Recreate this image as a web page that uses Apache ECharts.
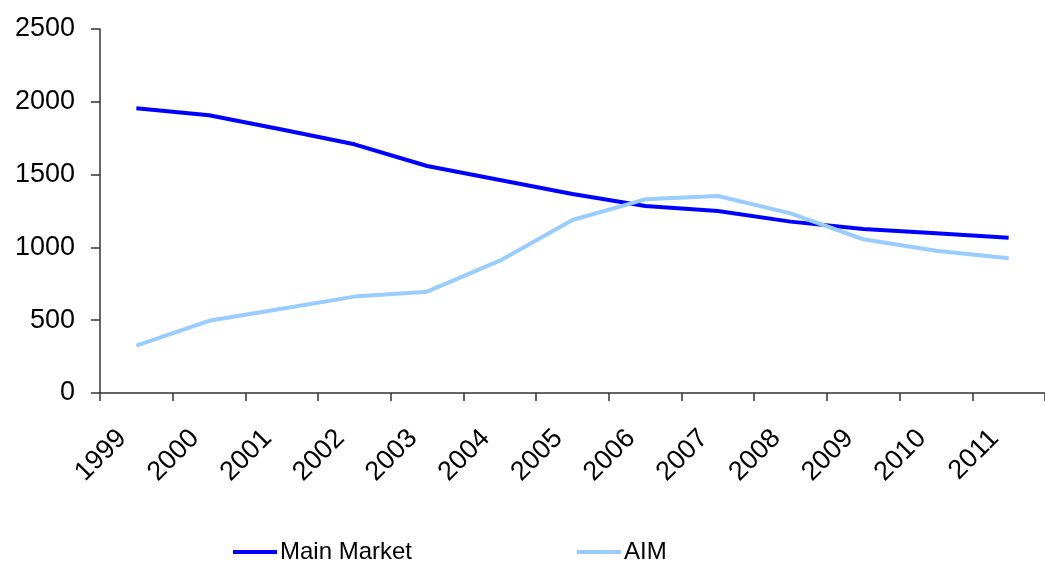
<!DOCTYPE html>
<html>
<head>
<meta charset="utf-8">
<script src="https://cdn.jsdelivr.net/npm/echarts@6/dist/echarts.min.js"></script>
<style>
html,body{margin:0;padding:0;background:#fff;}
#chart{width:1045px;height:561px;}
</style>
</head>
<body>
<div id="chart"></div>
<script>
const years = ['1999','2000','2001','2002','2003','2004','2005','2006','2007','2008','2009','2010','2011'];
const mainMarket = [1955, 1908, 1810, 1708, 1559, 1463, 1367, 1284, 1250, 1177, 1126, 1098, 1067];
const aim = [325, 496, 578, 662, 696, 909, 1188, 1330, 1353, 1234, 1056, 977, 925];
const yTicks = [0, 500, 1000, 1500, 2000, 2500];

const font = '"Liberation Sans", Arial, sans-serif';
const chart = echarts.init(document.getElementById('chart'));
chart.setOption({
  animation: false,
  backgroundColor: '#ffffff',
  grid: { left: 100, top: 29, bottom: 168, right: -9 },
  xAxis: {
    type: 'category',
    data: years,
    boundaryGap: true,
    axisLine: { show: true, lineStyle: { color: '#333', width: 1.5 } },
    axisTick: { show: true, length: 8, lineStyle: { color: '#333', width: 1.5 } },
    axisLabel: {
      rotate: 45, margin: 27, padding: [0, 20, 0, 0],
      color: '#000', fontSize: 27, fontFamily: font, interval: 0
    },
    splitLine: { show: false }
  },
  yAxis: {
    type: 'value',
    min: yTicks[0], max: yTicks[yTicks.length - 1], interval: 500,
    axisLine: { show: true, lineStyle: { color: '#333', width: 1.5 } },
    axisTick: { show: true, length: 9, lineStyle: { color: '#333', width: 1.5 } },
    axisLabel: { margin: 25, color: '#000', fontSize: 27, fontFamily: font, formatter: v => String(v) },
    splitLine: { show: false }
  },
  legend: [
    {
      data: [{ name: 'Main Market', icon: 'rect' }],
      left: 228, top: 535, itemWidth: 44, itemHeight: 4, itemGap: 0,
      textStyle: { fontSize: 24, fontFamily: font, color: '#000', padding: [0, 0, 0, -2] }
    },
    {
      data: [{ name: 'AIM', icon: 'rect' }],
      left: 572, top: 535, itemWidth: 44, itemHeight: 4, itemGap: 0,
      textStyle: { fontSize: 24, fontFamily: font, color: '#000', padding: [0, 0, 0, -2] }
    }
  ],
  series: [
    {
      name: 'Main Market', type: 'line', data: mainMarket,
      symbol: 'none', lineStyle: { color: '#0000FF', width: 4 },
      itemStyle: { color: '#0000FF' }
    },
    {
      name: 'AIM', type: 'line', data: aim,
      symbol: 'none', lineStyle: { color: '#99CCFF', width: 4 },
      itemStyle: { color: '#99CCFF' }
    }
  ]
});
</script>
</body>
</html>
